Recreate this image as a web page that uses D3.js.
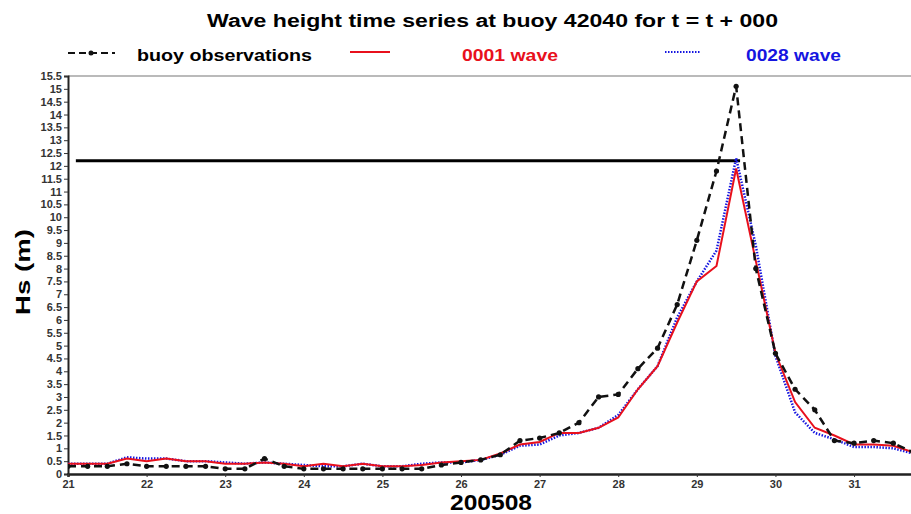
<!DOCTYPE html>
<html>
<head>
<meta charset="utf-8">
<script src="https://cdn.jsdelivr.net/npm/d3@7.9.0/dist/d3.min.js"></script>
<style>
  body { margin: 0; background: #fff; }
  svg { display: block; font-family: "Liberation Sans", Arial, sans-serif; }
</style>
</head>
<body>
<div id="chart"></div>
<script>
// day of August 2005, every 6 hours
const days = [21, 21.25, 21.5, 21.75, 22, 22.25, 22.5, 22.75, 23, 23.25, 23.5, 23.75,
  24, 24.25, 24.5, 24.75, 25, 25.25, 25.5, 25.75, 26, 26.25, 26.5, 26.75,
  27, 27.25, 27.5, 27.75, 28, 28.25, 28.5, 28.75, 29, 29.25, 29.5, 29.75,
  30, 30.25, 30.5, 30.75, 31, 31.25, 31.5, 31.75];

const buoyObs = [0.3, 0.3, 0.3, 0.4, 0.3, 0.3, 0.3, 0.3, 0.2, 0.2, 0.6, 0.3,
  0.2, 0.2, 0.2, 0.2, 0.2, 0.2, 0.2, 0.35, 0.45, 0.55, 0.75, 1.3,
  1.4, 1.6, 2.0, 3.0, 3.1, 4.1, 4.9, 6.6, 9.1, 11.8, 15.1, 8.0,
  4.7, 3.3, 2.5, 1.3, 1.2, 1.3, 1.2, 0.85];

const wave0001 = [0.4, 0.4, 0.4, 0.6, 0.5, 0.6, 0.5, 0.5, 0.4, 0.4, 0.45, 0.4,
  0.3, 0.4, 0.3, 0.4, 0.3, 0.3, 0.35, 0.45, 0.5, 0.55, 0.8, 1.15,
  1.25, 1.6, 1.6, 1.8, 2.2, 3.3, 4.2, 5.9, 7.5, 8.1, 11.9, 8.3,
  4.7, 2.8, 1.8, 1.5, 1.15, 1.15, 1.1, 0.85];

const wave0028 = [0.4, 0.4, 0.4, 0.65, 0.6, 0.6, 0.5, 0.5, 0.45, 0.4, 0.45, 0.4,
  0.35, 0.3, 0.3, 0.4, 0.3, 0.3, 0.4, 0.45, 0.45, 0.55, 0.75, 1.1,
  1.15, 1.5, 1.6, 1.8, 2.3, 3.3, 4.2, 6.1, 7.5, 8.7, 12.3, 8.9,
  4.6, 2.4, 1.6, 1.35, 1.05, 1.05, 1.0, 0.8];

const refLine = { from: 21.1, to: 29.55, value: 12.2 };

const yTicks = [0, 0.5, 1, 1.5, 2, 2.5, 3, 3.5, 4, 4.5, 5, 5.5, 6, 6.5, 7, 7.5,
  8, 8.5, 9, 9.5, 10, 10.5, 11, 11.5, 12, 12.5, 13, 13.5, 14, 14.5, 15, 15.5];
const xTicks = [21, 22, 23, 24, 25, 26, 27, 28, 29, 30, 31];

const width = 911, height = 514;
const area = { left: 68, right: 913, top: 76, bottom: 474 };

const svg = d3.select('#chart').append('svg')
  .attr('width', width).attr('height', height);

const x = d3.scaleLinear().domain([21, 31.75]).range([area.left, area.right]);
const y = d3.scaleLinear().domain([0, 15.5]).range([area.bottom, area.top]);

// the original fonts are wide, so stretch text to the measured widths
function wideText(sel, len) {
  return sel.attr('textLength', len).attr('lengthAdjust', 'spacingAndGlyphs');
}

// title
svg.append('text')
  .attr('x', 207).attr('y', 27)
  .attr('font-size', 18).attr('font-weight', 'bold')
  .text('Wave height time series at buoy 42040 for t = t + 000')
  .call(wideText, 571);

// legend
const leg = svg.append('g').attr('font-size', 17).attr('font-weight', 'bold');
leg.append('line').attr('x1', 68).attr('x2', 115).attr('y1', 53).attr('y2', 53)
  .attr('stroke', '#111').attr('stroke-width', 2).attr('stroke-dasharray', '7,4');
leg.append('circle').attr('cx', 91).attr('cy', 53).attr('r', 2.5).attr('fill', '#111');
leg.append('text').attr('x', 137).attr('y', 61).text('buoy observations').call(wideText, 175);
leg.append('line').attr('x1', 350).attr('x2', 390).attr('y1', 52).attr('y2', 52)
  .attr('stroke', '#e8101c').attr('stroke-width', 2);
leg.append('text').attr('x', 462).attr('y', 61).attr('fill', '#e8101c')
  .text('0001 wave').call(wideText, 96);
leg.append('line').attr('x1', 665).attr('x2', 700).attr('y1', 52).attr('y2', 52)
  .attr('stroke', '#1515e0').attr('stroke-width', 2).attr('stroke-dasharray', '1.5,1.5');
leg.append('text').attr('x', 746).attr('y', 61).attr('fill', '#1515e0')
  .text('0028 wave').call(wideText, 95);

// top frame line
svg.append('line').attr('x1', area.left).attr('x2', width).attr('y1', area.top).attr('y2', area.top)
  .attr('stroke', '#777').attr('stroke-width', 1.2);

// axes
const tickFont = '"Liberation Sans Narrow", "Liberation Sans", sans-serif';
const yAxis = svg.append('g')
  .attr('transform', `translate(${area.left},0)`)
  .call(d3.axisLeft(y).tickValues(yTicks).tickSize(4).tickPadding(2)
    .tickFormat(d => String(d)));
yAxis.select('.domain').attr('stroke', '#222').attr('stroke-width', 2);
yAxis.selectAll('.tick line').attr('stroke', '#333');
yAxis.selectAll('text').attr('font-size', 11).attr('font-weight', 'bold')
  .attr('fill', '#333').attr('font-family', tickFont);

const xAxis = svg.append('g')
  .attr('transform', `translate(0,${area.bottom})`)
  .call(d3.axisBottom(x).tickValues(xTicks).tickSize(3).tickPadding(3));
xAxis.select('.domain').attr('stroke', '#222').attr('stroke-width', 2.5);
xAxis.selectAll('.tick line').attr('stroke', '#333');
xAxis.selectAll('text').attr('font-size', 11).attr('font-weight', 'bold')
  .attr('fill', '#333').attr('font-family', tickFont);

// axis titles
svg.append('text')
  .attr('transform', `translate(30,272) rotate(-90)`)
  .attr('text-anchor', 'middle')
  .attr('font-size', 20).attr('font-weight', 'bold')
  .text('Hs (m)')
  .call(wideText, 86);
svg.append('text')
  .attr('x', 491).attr('y', 510)
  .attr('text-anchor', 'middle')
  .attr('font-size', 22).attr('font-weight', 'bold')
  .text('200508')
  .call(wideText, 82);

// reference line
svg.append('line')
  .attr('x1', x(refLine.from)).attr('x2', x(refLine.to))
  .attr('y1', y(refLine.value)).attr('y2', y(refLine.value))
  .attr('stroke', '#000').attr('stroke-width', 3);

const line = d3.line().x(d => x(d[0])).y(d => y(d[1]));
svg.append('defs').append('clipPath').attr('id', 'plot')
  .append('rect').attr('x', area.left).attr('y', area.top)
  .attr('width', width - area.left).attr('height', area.bottom - area.top);

const plot = svg.append('g').attr('clip-path', 'url(#plot)');

plot.append('path')
  .datum(d3.zip(days, wave0028))
  .attr('fill', 'none').attr('stroke', '#1515e0').attr('stroke-width', 2.5)
  .attr('stroke-dasharray', '1.5,1.5')
  .attr('d', line);

plot.append('path')
  .datum(d3.zip(days, wave0001))
  .attr('fill', 'none').attr('stroke', '#e8101c').attr('stroke-width', 2)
  .attr('d', line);

plot.append('path')
  .datum(d3.zip(days, buoyObs))
  .attr('fill', 'none').attr('stroke', '#111').attr('stroke-width', 2.5)
  .attr('stroke-dasharray', '8,5')
  .attr('d', line);

plot.selectAll('circle.obs')
  .data(d3.zip(days, buoyObs))
  .join('circle')
  .attr('class', 'obs')
  .attr('cx', d => x(d[0])).attr('cy', d => y(d[1]))
  .attr('r', 2.6).attr('fill', '#111');
</script>
</body>
</html>
